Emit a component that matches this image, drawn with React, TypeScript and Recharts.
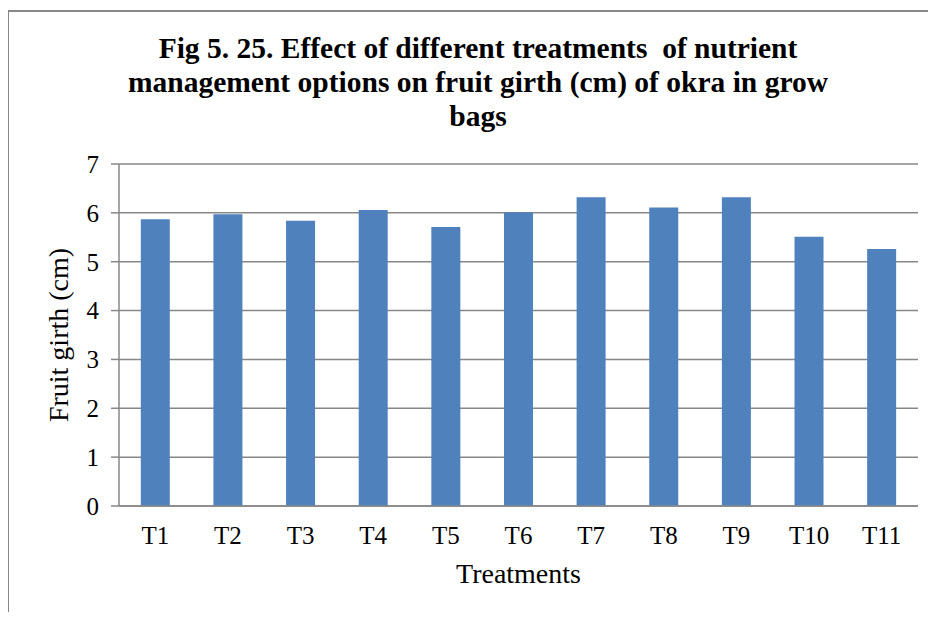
import { BarChart, Bar, XAxis, YAxis, CartesianGrid, Label } from 'recharts';

const treatments = ['T1', 'T2', 'T3', 'T4', 'T5', 'T6', 'T7', 'T8', 'T9', 'T10', 'T11'];
const fruitGirth = [5.87, 5.97, 5.84, 6.06, 5.71, 6.01, 6.32, 6.11, 6.32, 5.51, 5.26];
const yTicks = [0, 1, 2, 3, 4, 5, 6, 7];

const data = treatments.map((t, i) => ({ name: t, girth: fruitGirth[i] }));

const serif = '"Liberation Serif", "Times New Roman", serif';
const gray = '#878787';

const YTitle = ({ viewBox }) => {
  const cy = viewBox.y + viewBox.height / 2;
  return (
    <text x={58} y={cy} transform={`rotate(-90, 58, ${cy})`} textAnchor="middle"
      dominantBaseline="central" fontFamily={serif} fontSize={28} fill="#000">
      Fruit girth (cm)
    </text>
  );
};

const XTitle = ({ viewBox }) => (
  <text x={viewBox.x + viewBox.width / 2} y={583} textAnchor="middle"
    fontFamily={serif} fontSize={28} fill="#000">
    Treatments
  </text>
);

const App = () => {
  return (
    <div style={{ position: 'relative', width: 928, height: 604 }}>
      <div style={{ position: 'absolute', left: -1, top: 2, width: 2, height: 610, background: gray }} />
      <div style={{ position: 'absolute', left: -1, top: 2, width: 930, height: 2, background: gray }} />
      <div style={{ position: 'absolute', left: -8, top: -8, width: 936, height: 620 }}>
        <BarChart width={936} height={620} data={data} barCategoryGap="30%"
          margin={{ top: 164, right: 18, left: 0, bottom: 0 }}>
          <CartesianGrid vertical={false} stroke={gray} strokeWidth={1.5} />
          <XAxis dataKey="name" height={114} tickLine={false} tickMargin={14}
            axisLine={{ stroke: gray, strokeWidth: 1.5 }}
            tick={{ fontFamily: serif, fontSize: 25, fill: '#000' }}>
            <Label content={XTitle} />
          </XAxis>
          <YAxis width={119} domain={[0, 7]} ticks={yTicks} tickSize={8} tickMargin={12}
            axisLine={{ stroke: gray, strokeWidth: 1.5 }} tickLine={{ stroke: gray, strokeWidth: 1.5 }}
            tick={{ fontFamily: serif, fontSize: 25, fill: '#000' }}>
            <Label content={YTitle} />
          </YAxis>
          <Bar dataKey="girth" fill="#4F81BD" isAnimationActive={false} />
        </BarChart>
      </div>
      <div style={{ position: 'absolute', left: 478 - 8 - 420, top: 31 - 8, width: 840, textAlign: 'center',
        fontFamily: serif, fontWeight: 'bold', fontSize: 29.5, lineHeight: '34px', color: '#000' }}>
        Fig 5. 25. Effect of different treatments&nbsp; of nutrient<br />
        management options on fruit girth (cm) of okra in grow<br />
        bags
      </div>
    </div>
  );
};

export default App;
